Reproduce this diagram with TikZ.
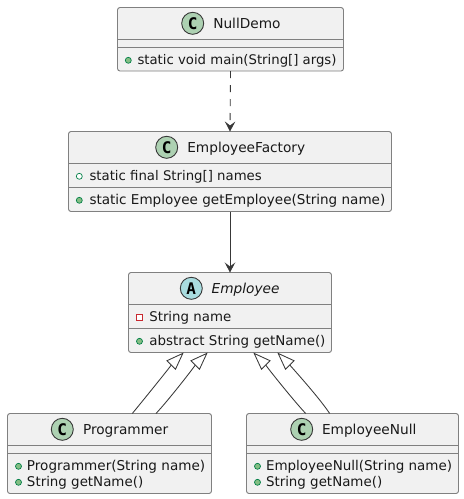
\documentclass[tikz,border=0pt]{standalone}
\usepackage{fontspec}
\setmainfont{DejaVu Sans}
\newfontfamily\glyphfont{DejaVu Sans Mono}
\usetikzlibrary{arrows.meta,calc}
\definecolor{boxfill}{HTML}{F1F1F1}
\definecolor{boxline}{HTML}{808080}
\definecolor{edgeline}{HTML}{383838}
\definecolor{spotC}{HTML}{ADD1B2}
\definecolor{spotA}{HTML}{A9DCDF}
\definecolor{pubfill}{HTML}{84BE84}
\definecolor{publine}{HTML}{038048}
\definecolor{privline}{HTML}{C82930}
\tikzset{
  classbox/.style={draw=boxline,fill=boxfill,line width=0.9pt,rounded corners=2.5pt,inner sep=0pt,outer sep=0pt},
  sep/.style={draw=boxline,line width=0.9pt},
  spot/.style={circle,draw=edgeline,line width=0.9pt,minimum size=22pt,inner sep=0pt,outer sep=0pt,text=black,font=\glyphfont\bfseries\fontsize{16}{16}\selectfont},
  title/.style={anchor=base west,inner sep=0pt,outer sep=0pt,font=\fontsize{13.7}{16}\selectfont,text=black!90},
  member/.style={anchor=base west,inner sep=0pt,outer sep=0pt,font=\fontsize{#1}{16}\selectfont,text=black!90},
  member/.default=13.35,
  pubm/.style={circle,draw=publine,fill=pubfill,line width=0.7pt,minimum size=6pt,inner sep=0pt,outer sep=0pt},
  pubf/.style={circle,draw=publine,fill=white,line width=0.7pt,minimum size=6pt,inner sep=0pt,outer sep=0pt},
  privf/.style={rectangle,draw=privline,fill=white,line width=0.7pt,minimum size=6pt,inner sep=0pt,outer sep=0pt},
  assoc/.style={draw=edgeline,line width=0.85pt,-{Stealth[inset=4pt,length=10pt,width=10.5pt,fill=edgeline]}},
  inherit/.style={draw=edgeline,line width=0.85pt,-{Triangle[open,length=18pt,width=13pt,fill=white]}}
}
\begin{document}
\begin{tikzpicture}[x=1pt,y=-1pt]
\path[use as bounding box,fill=white] (0,0) rectangle (464,499);
% NullDemo
\node[classbox,minimum width=226pt,minimum height=63.5pt] (demo) at (230.5,39.25) {};
\draw[sep] (demo.west |- 0,39.5) -- (demo.east |- 0,39.5);
\draw[sep] (demo.west |- 0,47.5) -- (demo.east |- 0,47.5);
\node[spot,fill=spotC] (demoS) at (192.7,23.3) {C};
\node[title] (demoT) at (213.3,28.4) {NullDemo};
\node[pubm] (demoM1) at (128.3,60.3) {};
\node[member=13.25] (demoL1) at (137.5,64.2) {static void main(String[] args)};
% EmployeeFactory
\node[classbox,minimum width=323pt,minimum height=80pt] (fac) at (230,171.5) {};
\draw[sep] (fac.west |- 0,163.5) -- (fac.east |- 0,163.5);
\draw[sep] (fac.west |- 0,187.5) -- (fac.east |- 0,187.5);
\node[spot,fill=spotC] (facS) at (166.7,147.3) {C};
\node[title] (facT) at (187.3,152.4) {EmployeeFactory};
\node[pubf] (facF1) at (79.3,176.3) {};
\node[member=13.28] (facL1) at (89.5,180.2) {static final String[] names};
\node[pubm] (facM1) at (79.3,200.3) {};
\node[member=13.54] (facL2) at (89.5,204.2) {static Employee getEmployee(String name)};
% Employee
\node[classbox,minimum width=203pt,minimum height=80pt] (emp) at (230,312.5) {};
\draw[sep] (emp.west |- 0,304.5) -- (emp.east |- 0,304.5);
\draw[sep] (emp.west |- 0,328.5) -- (emp.east |- 0,328.5);
\node[spot,fill=spotA] (empS) at (191.3,288.3) {A};
\node[title,font=\itshape\fontsize{13.7}{16}\selectfont] (empT) at (211.7,293.4) {Employee};
\node[privf] (empF1) at (139.5,317.3) {};
\node[member] (empL1) at (149.3,321.2) {String name};
\node[pubm] (empM1) at (139.5,341.3) {};
\node[member=13.43] (empL2) at (149.3,345.2) {abstract String getName()};
% Programmer
\node[classbox,minimum width=204pt,minimum height=80pt] (prog) at (109.5,453.5) {};
\draw[sep] (prog.west |- 0,445.5) -- (prog.east |- 0,445.5);
\draw[sep] (prog.west |- 0,453.5) -- (prog.east |- 0,453.5);
\node[spot,fill=spotC] (progS) at (62.3,429.3) {C};
\node[title] (progT) at (83,434.4) {Programmer};
\node[pubm] (progM1) at (18.5,466.3) {};
\node[member=13.56] (progL1) at (27,470.2) {Programmer(String name)};
\node[pubm] (progM2) at (18.5,482.3) {};
\node[member=13.4] (progL2) at (27,486.2) {String getName()};
% EmployeeNull
\node[classbox,minimum width=212pt,minimum height=80pt] (enull) at (352.5,453.5) {};
\draw[sep] (enull.west |- 0,445.5) -- (enull.east |- 0,445.5);
\draw[sep] (enull.west |- 0,453.5) -- (enull.east |- 0,453.5);
\node[spot,fill=spotC] (enullS) at (301.7,429.3) {C};
\node[title] (enullT) at (322,434.4) {EmployeeNull};
\node[pubm] (enullM1) at (257.5,466.3) {};
\node[member=13.48] (enullL1) at (266,470.2) {EmployeeNull(String name)};
\node[pubm] (enullM2) at (257.5,482.3) {};
\node[member=13.4] (enullL2) at (266,486.2) {String getName()};
% connectors
\draw[assoc,dash pattern=on 7pt off 7pt] (demo.south) -- (fac.north);
\draw[assoc] (fac.south) -- (emp.north);
\draw[inherit] ([xshift=124.8pt]prog.north west) .. controls +(14,-17) and +(-10,10) .. ([xshift=55.2pt]emp.south west);
\draw[inherit] ([xshift=148.5pt]prog.north west) .. controls +(14,-15) and +(-10,10) .. ([xshift=79.2pt]emp.south west);
\draw[inherit] ([xshift=59.2pt]enull.north west) .. controls +(-14,-15) and +(10,10) .. ([xshift=124.8pt]emp.south west);
\draw[inherit] ([xshift=83.2pt]enull.north west) .. controls +(-12,-18) and +(10,10) .. ([xshift=148.8pt]emp.south west);
\end{tikzpicture}
\end{document}
